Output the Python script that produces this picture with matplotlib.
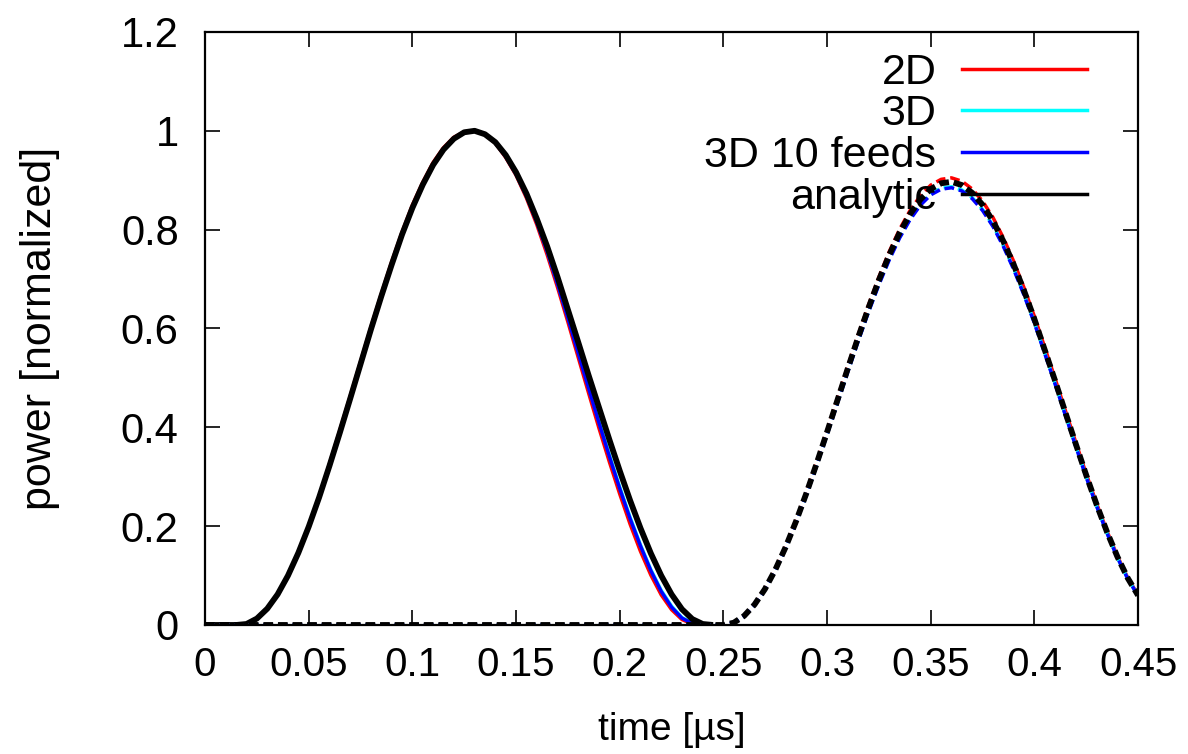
import matplotlib
matplotlib.use("Agg")
import matplotlib.pyplot as plt
from matplotlib.lines import Line2D

plt.rcParams['font.family'] = ['Liberation Sans', 'DejaVu Sans']
plt.rcParams['lines.scale_dashes'] = False

# time axis [us], 0 .. 0.45 in 0.005 steps
time = [0.000, 0.005, 0.010, 0.015, 0.020, 0.025, 0.030, 0.035, 0.040, 0.045,
        0.050, 0.055, 0.060, 0.065, 0.070, 0.075, 0.080, 0.085, 0.090, 0.095,
        0.100, 0.105, 0.110, 0.115, 0.120, 0.125, 0.130, 0.135, 0.140, 0.145,
        0.150, 0.155, 0.160, 0.165, 0.170, 0.175, 0.180, 0.185, 0.190, 0.195,
        0.200, 0.205, 0.210, 0.215, 0.220, 0.225, 0.230, 0.235, 0.240, 0.245,
        0.250, 0.255, 0.260, 0.265, 0.270, 0.275, 0.280, 0.285, 0.290, 0.295,
        0.300, 0.305, 0.310, 0.315, 0.320, 0.325, 0.330, 0.335, 0.340, 0.345,
        0.350, 0.355, 0.360, 0.365, 0.370, 0.375, 0.380, 0.385, 0.390, 0.395,
        0.400, 0.405, 0.410, 0.415, 0.420, 0.425, 0.430, 0.435, 0.440, 0.445,
        0.450]

# first pulse (solid lines), t = 0.000 .. 0.245
p1_2d = [0, 0, 0, 0, 0.002, 0.013, 0.033, 0.062, 0.100, 0.146,
         0.199, 0.258, 0.326, 0.394, 0.463, 0.533, 0.603, 0.670, 0.735, 0.795,
         0.850, 0.896, 0.936, 0.966, 0.987, 0.998, 1.000, 0.992, 0.975, 0.946,
         0.910, 0.864, 0.810, 0.749, 0.683, 0.613, 0.541, 0.469, 0.398, 0.330,
         0.265, 0.204, 0.149, 0.101, 0.061, 0.031, 0.011, 0.002, 0, 0]
p1_3d = [0, 0, 0, 0, 0.002, 0.013, 0.033, 0.062, 0.100, 0.146,
         0.199, 0.258, 0.322, 0.389, 0.458, 0.528, 0.598, 0.665, 0.729, 0.790,
         0.844, 0.891, 0.931, 0.962, 0.984, 0.997, 1.000, 0.993, 0.976, 0.949,
         0.913, 0.869, 0.817, 0.758, 0.692, 0.624, 0.553, 0.482, 0.412, 0.344,
         0.279, 0.218, 0.162, 0.112, 0.070, 0.038, 0.015, 0.004, 0, 0]
p1_3d10 = [0, 0, 0, 0, 0.002, 0.013, 0.033, 0.062, 0.100, 0.146,
           0.199, 0.258, 0.322, 0.389, 0.458, 0.528, 0.598, 0.665, 0.729, 0.790,
           0.844, 0.891, 0.931, 0.962, 0.984, 0.997, 1.000, 0.993, 0.976, 0.948,
           0.912, 0.868, 0.815, 0.756, 0.690, 0.621, 0.550, 0.479, 0.409, 0.341,
           0.276, 0.215, 0.160, 0.110, 0.068, 0.036, 0.014, 0.003, 0, 0]
p1_analytic = [0, 0, 0, 0, 0.002, 0.013, 0.033, 0.062, 0.100, 0.146,
               0.199, 0.258, 0.322, 0.389, 0.458, 0.528, 0.598, 0.665, 0.729, 0.790,
               0.844, 0.891, 0.931, 0.962, 0.984, 0.997, 1.000, 0.993, 0.977, 0.951,
               0.916, 0.873, 0.822, 0.766, 0.704, 0.638, 0.572, 0.505, 0.440, 0.375,
               0.312, 0.252, 0.196, 0.145, 0.100, 0.062, 0.032, 0.012, 0.002, 0]

# second pulse (dashed lines), t = 0.000 .. 0.450 (zero before 0.25)
p2_2d = [0] * 51 + [0.0046, 0.0187, 0.0417, 0.0731, 0.1125, 0.1589, 0.2114, 0.2688, 0.3301,
                    0.3940, 0.4590, 0.5238, 0.5873, 0.6477, 0.7043, 0.7557, 0.8010, 0.8386, 0.8687,
                    0.8901, 0.9018, 0.9048, 0.8981, 0.8822, 0.8577, 0.8247, 0.7835, 0.7358, 0.6824,
                    0.6243, 0.5614, 0.4981, 0.4329, 0.3689, 0.3056, 0.2458, 0.1900, 0.1395, 0.0957,
                    0.0603]
p2_3d = [0] * 51 + [0.0045, 0.0183, 0.0408, 0.0717, 0.1103, 0.1558, 0.2072, 0.2635, 0.3236,
                    0.3862, 0.4500, 0.5135, 0.5757, 0.6349, 0.6904, 0.7408, 0.7852, 0.8221, 0.8515,
                    0.8725, 0.8840, 0.8869, 0.8804, 0.8648, 0.8408, 0.8084, 0.7681, 0.7213, 0.6690,
                    0.6120, 0.5503, 0.4883, 0.4244, 0.3616, 0.2996, 0.2409, 0.1862, 0.1368, 0.0939,
                    0.0591]
p2_3d10 = [0] * 51 + [0.0045, 0.0183, 0.0407, 0.0715, 0.1100, 0.1554, 0.2067, 0.2628, 0.3228,
                      0.3853, 0.4489, 0.5122, 0.5743, 0.6334, 0.6887, 0.7390, 0.7833, 0.8201, 0.8495,
                      0.8704, 0.8818, 0.8848, 0.8783, 0.8627, 0.8387, 0.8064, 0.7662, 0.7195, 0.6673,
                      0.6105, 0.5489, 0.4871, 0.4234, 0.3607, 0.2988, 0.2403, 0.1858, 0.1364, 0.0936,
                      0.0590]
p2_analytic = [0] * 51 + [0.0046, 0.0185, 0.0413, 0.0725, 0.1115, 0.1575, 0.2095, 0.2664, 0.3272,
                          0.3905, 0.4550, 0.5192, 0.5821, 0.6420, 0.6981, 0.7490, 0.7939, 0.8312, 0.8610,
                          0.8822, 0.8938, 0.8968, 0.8902, 0.8744, 0.8501, 0.8174, 0.7766, 0.7293, 0.6764,
                          0.6188, 0.5564, 0.4937, 0.4291, 0.3656, 0.3029, 0.2436, 0.1883, 0.1383, 0.0949,
                          0.0598]

labels = ["2D", "3D", "3D 10 feeds", "analytic"]
colors = ["#ff0000", "#00ffff", "#0000ff", "#000000"]
widths = [2.5, 2.5, 2.5, 4.2]
xticks = [0, 0.05, 0.1, 0.15, 0.2, 0.25, 0.3, 0.35, 0.4, 0.45]
xticklabels = ["0", "0.05", "0.1", "0.15", "0.2", "0.25", "0.3", "0.35", "0.4", "0.45"]
yticks = [0, 0.2, 0.4, 0.6, 0.8, 1.0, 1.2]
yticklabels = ["0", "0.2", "0.4", "0.6", "0.8", "1", "1.2"]

fig = plt.figure(figsize=(11.88, 7.54), dpi=100)
ax = fig.add_axes([0.1726, 0.1711, 0.7854, 0.7865])

first = [p1_2d, p1_3d, p1_3d10, p1_analytic]
second = [p2_2d, p2_3d, p2_3d10, p2_analytic]
n1 = len(p1_2d)
for ys, c, w in zip(first, colors, widths):
    ax.plot(time[:n1], ys, color=c, lw=w, solid_capstyle='butt', zorder=2)
for ys, c, w in zip(second, colors, widths):
    ax.plot(time, ys, color=c, lw=w, dashes=(7.0, 3.5), dash_capstyle='butt', zorder=2)

ax.set_xlim(0, 0.45)
ax.set_ylim(0, 1.2)
ax.set_xticks(xticks)
ax.set_xticklabels(xticklabels)
ax.set_yticks(yticks)
ax.set_yticklabels(yticklabels)
ax.tick_params(direction='in', length=11, width=1.2, top=True, right=True)
ax.tick_params(axis='x', labelsize=29, pad=15)
ax.tick_params(axis='y', labelsize=30, pad=19)
for s in ax.spines.values():
    s.set_linewidth(1.6)
    s.set_zorder(5)

ax.set_xlabel("time [\u00b5s]", fontsize=28, labelpad=20)
ax.set_ylabel("power [normalized]", fontsize=31, labelpad=44)

handles = [Line2D([], [], color=c, lw=2.5) for c in colors]
ax.legend(handles, labels, loc='upper right', bbox_to_anchor=(0.9453, 0.965),
          frameon=False, markerfirst=False, fontsize=31, handlelength=2.9,
          handletextpad=0.6, labelspacing=0.04, borderpad=0, borderaxespad=0)

fig.savefig("out.png", dpi=100)
